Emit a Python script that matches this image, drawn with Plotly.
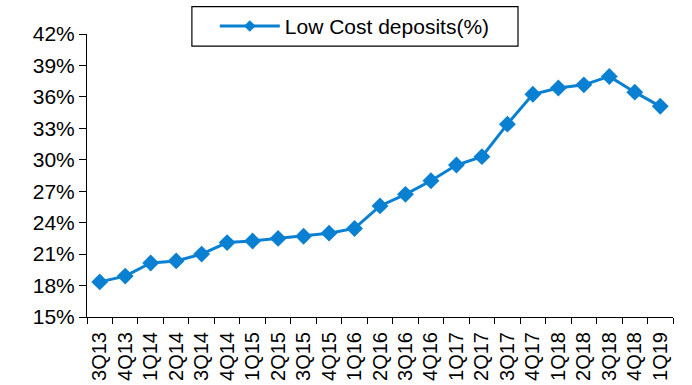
import plotly.graph_objects as go

quarters = ["3Q13", "4Q13", "1Q14", "2Q14", "3Q14", "4Q14", "1Q15", "2Q15", "3Q15", "4Q15",
            "1Q16", "2Q16", "3Q16", "4Q16", "1Q17", "2Q17", "3Q17", "4Q17", "1Q18", "2Q18",
            "3Q18", "4Q18", "1Q19"]
low_cost_deposits = [18.35, 18.9, 20.15, 20.35, 21.0, 22.1, 22.25, 22.5, 22.7, 23.0,
                     23.45, 25.6, 26.7, 28.0, 29.5, 30.3, 33.4, 36.25, 36.85, 37.15,
                     37.95, 36.45, 35.1]
y_ticks = [15, 18, 21, 24, 27, 30, 33, 36, 39, 42]

color = "#0A80D2"
font = "Liberation Sans, Arial, sans-serif"

fig = go.Figure()
fig.add_trace(go.Scatter(
    x=quarters, y=low_cost_deposits, mode="lines+markers",
    name="Low Cost deposits(%)", showlegend=False,
    line=dict(color=color, width=3),
    marker=dict(symbol="diamond", size=13, color=color),
))
# legend entry with the smaller legend-style marker
fig.add_trace(go.Scatter(
    x=[None], y=[None], mode="lines+markers",
    name="Low Cost deposits(%)", showlegend=True,
    line=dict(color=color, width=3),
    marker=dict(symbol="diamond", size=9, color=color),
))

# legend frame (wider than plotly's own border)
fig.add_shape(type="rect", xref="paper", yref="paper",
              x0=0.179, x1=0.7355, y0=0.9575, y1=1.0965,
              line=dict(color="black", width=1.2), fillcolor="rgba(0,0,0,0)", layer="above")

fig.update_layout(
    width=692, height=385,
    margin=dict(l=87, r=19, t=34, b=68, autoexpand=False),
    paper_bgcolor="white", plot_bgcolor="white",
    font=dict(family=font, size=20, color="black"),
    showlegend=True,
    legend=dict(
        orientation="h", x=0.457, xanchor="center", y=1.027, yanchor="middle",
        borderwidth=0, bgcolor="rgba(0,0,0,0)",
        font=dict(family=font, size=21, color="black"),
        itemwidth=60,
    ),
    xaxis=dict(
        type="category", tickangle=-90, showline=True, linecolor="black", linewidth=1,
        ticks="outside", ticklen=6, tickcolor="black", tickson="boundaries",
        showgrid=False, tickfont=dict(size=20), range=[-0.5, len(quarters) - 0.5],
        automargin=False, ticklabelstandoff=6,
    ),
    yaxis=dict(
        range=[15, 42], tickvals=y_ticks, ticktext=[f"{v}%" for v in y_ticks],
        showline=True, linecolor="black", linewidth=1,
        ticks="outside", ticklen=7, tickcolor="black", showgrid=False,
        zeroline=False, tickfont=dict(size=21), automargin=False,
    ),
)

fig.write_html("out.html")
